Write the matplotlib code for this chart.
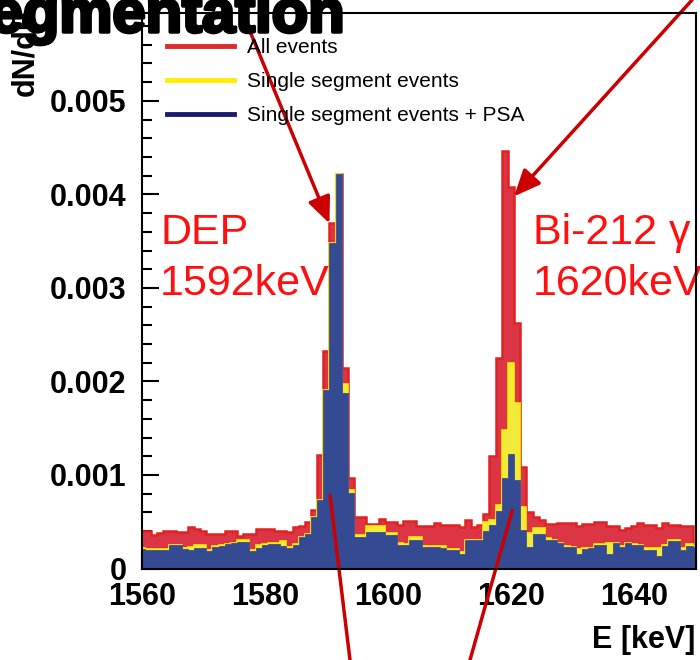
import numpy as np
import matplotlib
matplotlib.use("Agg")
import matplotlib.pyplot as plt
from matplotlib.lines import Line2D
import matplotlib.patheffects as pe

plt.rcParams['font.family'] = ['Liberation Sans', 'DejaVu Sans']

# bin centres (keV)
energy = np.arange(1560, 1651)

all_events = [
    0.00040, 0.00040, 0.00036, 0.00038, 0.00040, 0.00040, 0.00039, 0.00039, 0.00044, 0.00042,
    0.00040, 0.00037, 0.00037, 0.00037, 0.00040, 0.00040, 0.00035, 0.00037, 0.00037, 0.00042,
    0.00042, 0.00042, 0.00040, 0.00040, 0.00039, 0.00044, 0.00045, 0.00050, 0.00063, 0.00121,
    0.00233, 0.00369, 0.00422, 0.00214, 0.00097, 0.00055, 0.00055, 0.00048, 0.00048, 0.00053,
    0.00050, 0.00050, 0.00047, 0.00051, 0.00051, 0.00045, 0.00045, 0.00045, 0.00049, 0.00047,
    0.00047, 0.00047, 0.00044, 0.00052, 0.00044, 0.00047, 0.00058, 0.00120, 0.00225, 0.00446,
    0.00408, 0.00263, 0.00109, 0.00060, 0.00055, 0.00052, 0.00048, 0.00048, 0.00049, 0.00049,
    0.00049, 0.00045, 0.00048, 0.00048, 0.00050, 0.00050, 0.00045, 0.00045, 0.00041, 0.00043,
    0.00045, 0.00049, 0.00047, 0.00046, 0.00043, 0.00049, 0.00047, 0.00046, 0.00045, 0.00045,
    0.00024,
]

single_segment = [
    0.00022, 0.00021, 0.00021, 0.00021, 0.00021, 0.00025, 0.00025, 0.00022, 0.00023, 0.00025,
    0.00025, 0.00020, 0.00024, 0.00025, 0.00026, 0.00027, 0.00031, 0.00031, 0.00020, 0.00025,
    0.00026, 0.00027, 0.00027, 0.00029, 0.00023, 0.00026, 0.00034, 0.00037, 0.00055, 0.00073,
    0.00191, 0.00348, 0.00422, 0.00197, 0.00084, 0.00036, 0.00036, 0.00045, 0.00045, 0.00045,
    0.00038, 0.00038, 0.00027, 0.00026, 0.00034, 0.00034, 0.00024, 0.00024, 0.00024, 0.00024,
    0.00021, 0.00021, 0.00018, 0.00031, 0.00031, 0.00031, 0.00050, 0.00052, 0.00068, 0.00148,
    0.00220, 0.00177, 0.00066, 0.00038, 0.00043, 0.00043, 0.00033, 0.00031, 0.00027, 0.00024,
    0.00023, 0.00021, 0.00022, 0.00022, 0.00026, 0.00026, 0.00027, 0.00027, 0.00024, 0.00027,
    0.00026, 0.00025, 0.00022, 0.00022, 0.00022, 0.00025, 0.00030, 0.00030, 0.00022, 0.00026,
    0.00024,
]

single_segment_psa = [
    0.00021, 0.00020, 0.00020, 0.00020, 0.00020, 0.00025, 0.00025, 0.00021, 0.00020, 0.00022,
    0.00022, 0.00019, 0.00023, 0.00024, 0.00026, 0.00027, 0.00028, 0.00028, 0.00019, 0.00022,
    0.00025, 0.00026, 0.00026, 0.00024, 0.00022, 0.00025, 0.00034, 0.00037, 0.00055, 0.00073,
    0.00191, 0.00348, 0.00422, 0.00188, 0.00081, 0.00034, 0.00034, 0.00039, 0.00039, 0.00039,
    0.00036, 0.00036, 0.00025, 0.00025, 0.00030, 0.00030, 0.00023, 0.00023, 0.00023, 0.00022,
    0.00020, 0.00020, 0.00015, 0.00030, 0.00030, 0.00030, 0.00040, 0.00047, 0.00061, 0.00097,
    0.00122, 0.00095, 0.00041, 0.00023, 0.00037, 0.00037, 0.00030, 0.00030, 0.00027, 0.00023,
    0.00023, 0.00016, 0.00021, 0.00022, 0.00025, 0.00025, 0.00015, 0.00027, 0.00023, 0.00027,
    0.00025, 0.00025, 0.00020, 0.00020, 0.00013, 0.00024, 0.00029, 0.00029, 0.00020, 0.00024,
    0.00023,
]

legend_labels = ["All events", "Single segment events", "Single segment events + PSA"]
x_ticks = [1560, 1580, 1600, 1620, 1640]
y_ticks = [0, 0.001, 0.002, 0.003, 0.004, 0.005]
y_tick_labels = ["0", "0.001", "0.002", "0.003", "0.004", "0.005"]

edges = np.append(energy - 0.5, energy[-1] + 0.5)

W, H = 700, 660
fig = plt.figure(figsize=(7.0, 6.6), dpi=100)
ax = fig.add_axes([141.7 / W, 1 - 568.5 / H, (695.7 - 141.7) / W, (568.5 - 13) / H])

ax.stairs(all_events, edges, fill=True, facecolor='#dc3545', edgecolor='#e02222',
          linewidth=1.8, zorder=1)
ax.stairs(single_segment, edges, fill=True, facecolor='#f2ea3a', edgecolor='#ffee00',
          linewidth=1.2, zorder=1.1)
ax.stairs(single_segment_psa, edges, fill=True, facecolor='#344a92', edgecolor='#3a4f95',
          linewidth=0.6, zorder=1.2)

ax.set_xlim(1560, 1650)
ax.set_ylim(0, 0.00594)
ax.set_axisbelow(True)

ax.set_xticks(x_ticks)
ax.set_xticks(np.arange(1560, 1651, 5), minor=True)
ax.set_yticks(y_ticks)
ax.set_yticklabels(y_tick_labels)
ax.set_yticks(np.arange(0, 0.0059, 0.0002), minor=True)
ax.tick_params(axis='both', which='both', direction='in', top=False, right=False)
ax.tick_params(axis='both', which='major', length=12, width=1.5, labelsize=22)
ax.tick_params(axis='both', which='minor', length=7, width=1.5)
ax.tick_params(axis='y', pad=11)
ax.tick_params(axis='x', pad=10)
for lab in ax.get_xticklabels() + ax.get_yticklabels():
    lab.set_fontweight('bold')
for sp in ax.spines.values():
    sp.set_linewidth(1.5)
    sp.set_zorder(3)

handles = [Line2D([], [], color='#dd2c2c', lw=3.5),
           Line2D([], [], color='#ffee00', lw=3.5),
           Line2D([], [], color='#1c1c6e', lw=3.5)]
ax.legend(handles, legend_labels, loc='upper left', bbox_to_anchor=(0.031, 0.970),
          frameon=False, fontsize=15, handlelength=3.2, handletextpad=0.65,
          labelspacing=0.72, borderaxespad=0.0)

# peak labels
ax.text(1563, 0.00347, "DEP", color='#ff1010', fontsize=31, ha='left', va='baseline')
ax.text(1563, 0.00292, "1592keV", color='#ff1010', fontsize=31, ha='left', va='baseline')
ax.text(1623.6, 0.00347, "Bi-212 \u03b3", color='#ff1010', fontsize=31, ha='left',
        va='baseline', clip_on=False)
ax.text(1623.6, 0.00292, "1620keV", color='#ff1010', fontsize=31, ha='left', va='baseline',
        clip_on=False)

# arrows
arrow_col = '#cc0000'
ax.annotate("", xy=(1590.5, all_events[31]), xycoords='data',
            xytext=(237 / W, 1.0), textcoords='figure fraction',
            arrowprops=dict(arrowstyle='-|>,head_length=1.6,head_width=0.7', color=arrow_col,
                            lw=2.5, shrinkA=0, shrinkB=0), annotation_clip=False)
ax.annotate("", xy=(1620.5, all_events[60] - 0.0001), xycoords='data',
            xytext=(692 / W, 1.0), textcoords='figure fraction',
            arrowprops=dict(arrowstyle='-|>,head_length=1.6,head_width=0.7', color=arrow_col,
                            lw=2.5, shrinkA=0, shrinkB=0), annotation_clip=False)
ax.annotate("", xy=(1590.6, single_segment_psa[29] + 0.00005), xycoords='data',
            xytext=(350 / W, 0.0), textcoords='figure fraction',
            arrowprops=dict(arrowstyle='-', color=arrow_col, lw=2.5, shrinkA=0, shrinkB=0),
            annotation_clip=False)
ax.annotate("", xy=(1620.2, single_segment_psa[60] - 0.0006), xycoords='data',
            xytext=(470 / W, 0.0), textcoords='figure fraction',
            arrowprops=dict(arrowstyle='-', color=arrow_col, lw=2.5, shrinkA=0, shrinkB=0),
            annotation_clip=False)

# axis titles and header
fig.text(695 / W, 1 - 648 / H, "E [keV]", ha='right', va='baseline', fontsize=22,
         fontweight='bold')
fig.text(25 / W, 1 - 96 / H, "dN/dE", ha='center', va='bottom', rotation=90, fontsize=22,
         fontweight='bold')
fig.text(345 / W, 1 - 32 / H, "Segmentation", ha='right', va='baseline', fontsize=43,
         fontweight='bold',
         path_effects=[pe.withStroke(linewidth=2.5, foreground='black')])

fig.savefig("out.png", dpi=100)
